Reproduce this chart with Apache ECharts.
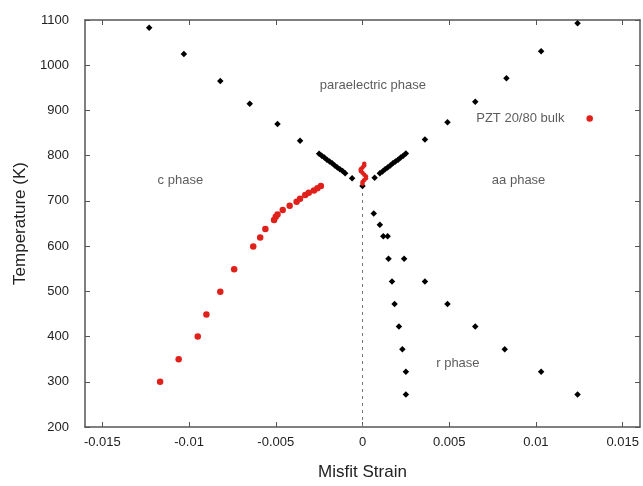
<!DOCTYPE html>
<html><head><meta charset="utf-8">
<script src="https://cdn.jsdelivr.net/npm/echarts@6/dist/echarts.min.js"></script>
<style>html,body{margin:0;padding:0;background:#fff}#c{width:643px;height:486px}</style>
</head><body><div id="c"></div>
<script>
// Black phase-boundary points [misfit strain, temperature K]
const cUpperLeft = [[-0.0123,1083],[-0.0103,1025],[-0.0082,965],[-0.0065,915],[-0.0049,870],[-0.0036,833]];
const cUpperRight = [[0.0124,1093],[0.0103,1031],[0.0083,971],[0.0065,919],[0.0049,874],[0.0036,836]];
const denseLeft = [[-0.0025,804],[-0.00235,800],[-0.0022,796],[-0.00205,791],[-0.0019,787],[-0.00175,783],[-0.0016,778],[-0.00145,774],[-0.0013,770],[-0.00115,766],[-0.001,761],[-0.0006,750]];
const denseRight = [[0.0007,751],[0.001,761],[0.00115,765],[0.0013,770],[0.00145,774],[0.0016,778],[0.00175,783],[0.0019,787],[0.00205,791],[0.0022,796],[0.00235,800],[0.0025,805]];
const center = [[0,733]];
const rInner = [[0.00065,672],[0.001,647],[0.0012,622],[0.00145,622],[0.0015,572],[0.0017,522],[0.00185,472],[0.0021,422],[0.0023,372],[0.0025,322],[0.0025,272]];
const rOuter = [[0.0024,572],[0.0036,522],[0.0049,472],[0.0065,422],[0.0082,372],[0.0103,322],[0.0124,272]];
// Red points
const redFilm = [[-0.01167,300],[-0.0106,350],[-0.0095,400],[-0.009,449],[-0.0082,499],[-0.0074,549],[-0.0063,599],[-0.0059,619],[-0.0056,638],[-0.0051,658],[-0.005,665],[-0.0049,670],[-0.0046,680],[-0.0042,689],[-0.0038,698],[-0.0036,705],[-0.0033,713],[-0.0031,718],[-0.0028,723],[-0.0026,728],[-0.0024,733]];
const redZero = [[0.0001,782],[0.0001,778],[0,774],[-0.0001,770],[-0.0001,766],[0,762],[0.0001,758],[0.0002,754],[0.0002,750],[0.0001,746],[0,742],[0,738]];
const bulk = [[0.0131,882]];
const zeroLine = [[0,200],[0,780]];
// Annotations
const notes = [
  {text:'paraelectric phase', pos:[0.0006,956]},
  {text:'c phase', pos:[-0.0105,746]},
  {text:'aa phase', pos:[0.009,746]},
  {text:'PZT 20/80 bulk', pos:[0.0091,883]},
  {text:'r phase', pos:[0.0055,340]}
];
const xTicks = [-0.015,-0.01,-0.005,0,0.005,0.01,0.015];
const xTickLabels = ['-0.015','-0.01','-0.005','0','0.005','0.01','0.015'];

const black = '#000000', red = '#e0201a';
const blackAll = [].concat(cUpperLeft, cUpperRight, denseLeft, denseRight, center, rInner, rOuter);

const axisColor = '#555';
const font = 'Liberation Sans, Arial, sans-serif';
const chart = echarts.init(document.getElementById('c'), null, {renderer:'canvas'});
chart.setOption({
  animation:false,
  grid:{left:85,right:3,top:20,bottom:59,show:false},
  xAxis:[{
    type:'value', min:-0.016, max:0.016,
    name:'Misfit Strain', nameLocation:'middle', nameGap:37,
    nameTextStyle:{fontSize:17,color:'#222',fontFamily:font},
    axisLine:{show:true,onZero:false,lineStyle:{color:axisColor,width:1.5}},
    axisTick:{show:true,inside:true,length:5,customValues:xTicks,lineStyle:{color:axisColor}},
    axisLabel:{customValues:xTicks,fontSize:13,color:'#222',margin:9,fontFamily:font,
      formatter:v=>{let best=0;xTicks.forEach((t,i)=>{if(Math.abs(t-v)<Math.abs(xTicks[best]-v))best=i;});return xTickLabels[best];}},
    splitLine:{show:false}
  },{
    type:'value', min:-0.016, max:0.016, position:'top',
    axisLine:{show:true,onZero:false,lineStyle:{color:axisColor,width:1.5}},
    axisTick:{show:true,inside:true,length:5,customValues:xTicks,lineStyle:{color:axisColor}},
    axisLabel:{show:false}, splitLine:{show:false}
  }],
  yAxis:[{
    type:'value', min:200, max:1100, interval:100, position:'left',
    name:'Temperature (K)', nameLocation:'middle', nameGap:53,
    nameTextStyle:{fontSize:17,color:'#222',fontFamily:font},
    axisLine:{show:true,onZero:false,lineStyle:{color:axisColor,width:1.5}},
    axisTick:{show:true,inside:true,length:5,lineStyle:{color:axisColor}},
    axisLabel:{fontSize:13,color:'#222',margin:16,fontFamily:font,formatter:v=>String(v)},
    splitLine:{show:false}
  },{
    type:'value', min:200, max:1100, interval:100, position:'right',
    axisLine:{show:true,onZero:false,lineStyle:{color:axisColor,width:1.5}},
    axisTick:{show:true,inside:true,length:5,lineStyle:{color:axisColor}},
    axisLabel:{show:false}, splitLine:{show:false}
  }],
  series:[
    {type:'line', data:zeroLine, symbol:'none', lineStyle:{color:'#777',width:1,type:[3,4]}, silent:true, z:1},
    {type:'scatter', data:blackAll, symbol:'diamond', symbolSize:6.5, itemStyle:{color:black,opacity:1}, z:3},
    {type:'scatter', data:redFilm, symbol:'circle', symbolSize:6.5, itemStyle:{color:red,opacity:1}, z:4},
    {type:'scatter', data:redZero, symbol:'circle', symbolSize:4.5, itemStyle:{color:red,opacity:1}, z:4},
    {type:'scatter', data:bulk, symbol:'circle', symbolSize:6.5, itemStyle:{color:red,opacity:1}, z:4},
    {type:'scatter', data:notes.map(n=>({value:n.pos, name:n.text})), symbolSize:0, silent:true,
      label:{show:true, position:'inside', formatter:p=>p.name, fontSize:13, color:'#333', fontFamily:font}, z:5}
  ]
});
</script></body></html>
